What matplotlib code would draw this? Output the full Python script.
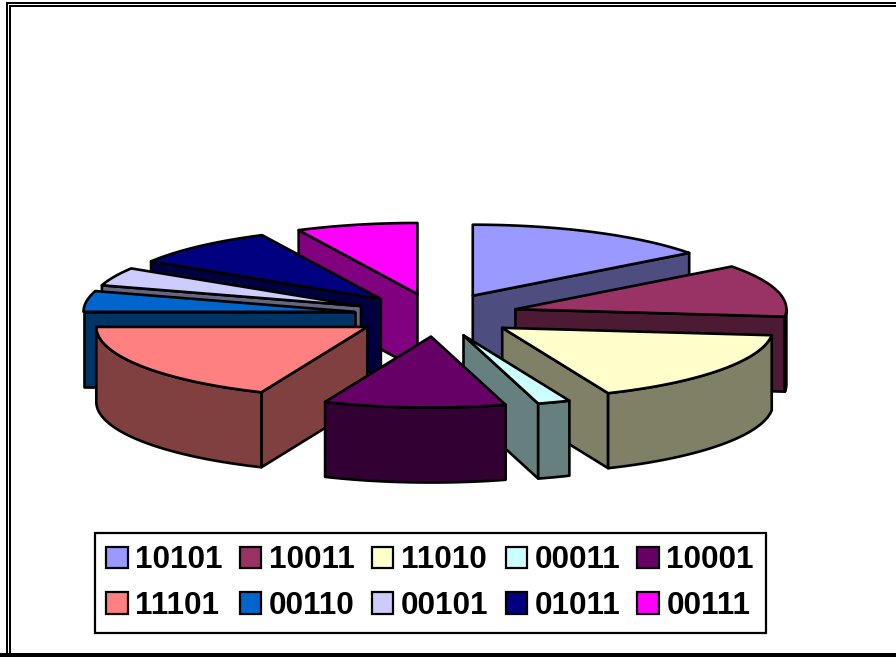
import numpy as np
import matplotlib
matplotlib.use("Agg")
import matplotlib.pyplot as plt
from matplotlib.patches import Polygon, Patch

# Slice sizes in degrees, clockwise from twelve o'clock
labels = ["10101", "10011", "11010", "00011", "10001",
          "11101", "00110", "00101", "01011", "00111"]
values = [53, 43, 61, 7, 39, 67, 17, 15, 32, 26]
top_colors = ["#9999FF", "#993366", "#FFFFCC", "#CCFFFF", "#660066",
              "#FF8080", "#0066CC", "#CCCCFF", "#000080", "#FF00FF"]
side_colors = ["#4D4D80", "#4D1A33", "#808066", "#668080", "#330033",
               "#804040", "#003366", "#666680", "#000040", "#800080"]

# Tilted-pie geometry, in pixels
CX, CY = 436.0, 315.0
RX, RY = 271.0, 71.0
DEPTH = 75.0
EXPLODE = 0.304
LW = 1.9

W, H = 896, 657
fig = plt.figure(figsize=(W / 100, H / 100), dpi=100)
ax = fig.add_axes([0, 0, 1, 1])
ax.set_xlim(0, W)
ax.set_ylim(H, 0)
ax.axis("off")


def rim(ax_x, ax_y, deg):
    t = np.radians(deg)
    return np.column_stack([ax_x + RX * np.sin(t), ax_y - RY * np.cos(t)])


def face(points, color, z):
    ax.add_patch(Polygon(points, closed=True, facecolor=color, edgecolor="black",
                         linewidth=LW, joinstyle="round", zorder=z))


bounds = np.concatenate([[0], np.cumsum(values)]).astype(float)
mids = (bounds[:-1] + bounds[1:]) / 2
order = np.argsort(-np.cos(np.radians(mids)))

z = 2
for i in order:
    a, b = bounds[i], bounds[i + 1]
    m = np.radians(mids[i])
    ox = CX + EXPLODE * RX * np.sin(m)
    oy = CY - EXPLODE * RY * np.cos(m)
    apex = np.array([ox, oy])
    down = np.array([0, DEPTH])

    # Cut faces turned towards the viewer
    for ang, visible in ((a, np.sin(np.radians(a)) < -1e-6),
                         (b, np.sin(np.radians(b)) > 1e-6)):
        if visible:
            p = rim(ox, oy, np.array([ang]))[0]
            face([apex, p, p + down, apex + down], side_colors[i], z)
            z += 1

    # Outer wall, only where the rim runs along the front of the pie
    lo, hi = max(a, 90.0), min(b, 270.0)
    if hi > lo:
        arc = rim(ox, oy, np.linspace(lo, hi, 60))
        face(np.vstack([arc, (arc + down)[::-1]]), side_colors[i], z)
        z += 1

    # Top surface
    arc = rim(ox, oy, np.linspace(a, b, 80))
    face(np.vstack([apex, arc]), top_colors[i], z)
    z += 1

# Double frame around the chart area
frame = dict(color="black", lw=1.44, solid_capstyle="butt", solid_joinstyle="miter", zorder=1)
ax.plot([W, 7, 7], [3, 3, H], **frame)
ax.plot([W, 10, 10], [6, 6, H], **frame)
ax.plot([0, W], [655, 655], color="black", lw=2.88, solid_capstyle="butt", zorder=1)

# The legend fills column by column, so feed it entries that read across in two rows
ncols = 5
across = [j for c in range(ncols) for j in (c, c + ncols)]
handles = [Patch(facecolor=top_colors[j], edgecolor="black", linewidth=1.6) for j in across]
leg = ax.legend(handles, [labels[j] for j in across], ncols=ncols, loc="lower left",
                bbox_to_anchor=(94.5, 633), bbox_transform=ax.transData,
                borderaxespad=0, fancybox=False, framealpha=1, edgecolor="black",
                prop={"family": "Liberation Sans", "weight": "bold", "size": 22.6},
                handlelength=0.68, handleheight=0.68, handletextpad=0.24,
                columnspacing=0.55, labelspacing=0.5, borderpad=0.38)
leg.get_frame().set_linewidth(1.6)
leg.set_zorder(200)

fig.savefig("out.png", dpi=100)
